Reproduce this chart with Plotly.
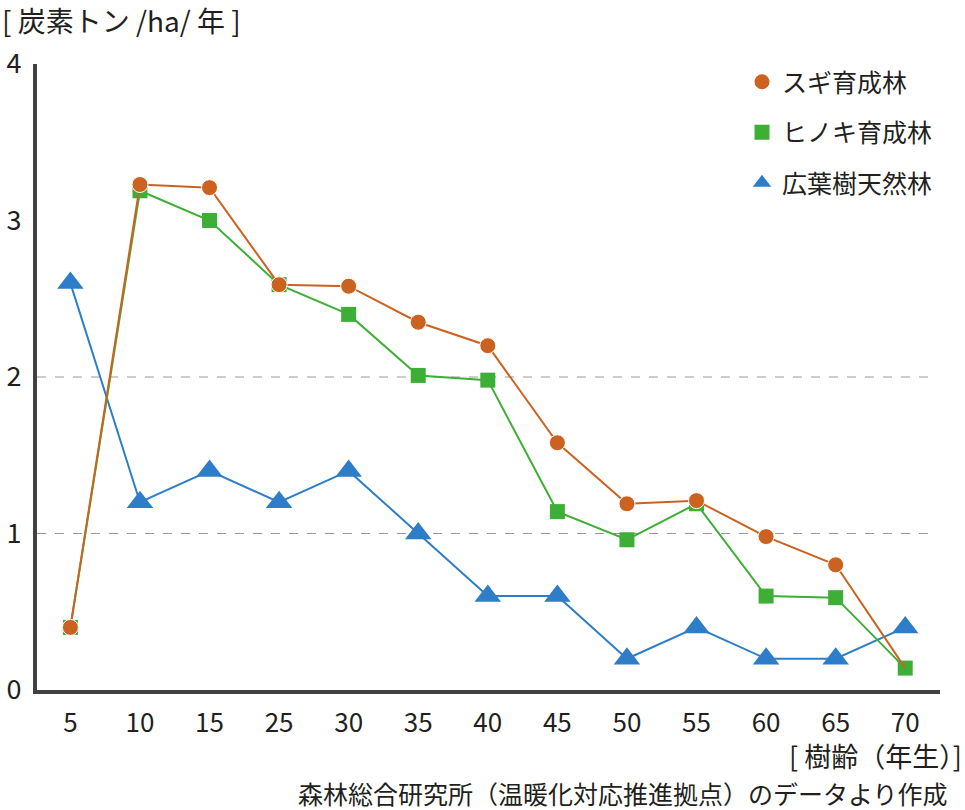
import plotly.graph_objects as go

ages = ["5", "10", "15", "25", "30", "35", "40", "45", "50", "55", "60", "65", "70"]
sugi = [0.40, 3.23, 3.21, 2.59, 2.58, 2.35, 2.20, 1.58, 1.19, 1.21, 0.98, 0.80, 0.14]
hinoki = [0.40, 3.19, 3.00, 2.59, 2.40, 2.01, 1.98, 1.14, 0.96, 1.19, 0.60, 0.59, 0.14]
kouyou = [2.60, 1.20, 1.40, 1.20, 1.40, 1.00, 0.60, 0.60, 0.20, 0.40, 0.20, 0.20, 0.40]
names = ["スギ育成林", "ヒノキ育成林", "広葉樹天然林"]
y_ticks = [0, 1, 2, 3, 4]
grid_vals = [1, 2]

ORANGE = "#CC6220"
GREEN = "#3EAF36"
BLUE = "#2E7DC9"
FONT = "Noto Sans CJK JP"
TXT = "#231f20"

W, H = 965, 810
L, R, T, B = 37, 25, 64, 120
PW = W - L - R
PH = H - T - B

fig = go.Figure()

series = [
    (names[0], sugi, ORANGE, "circle", [16] * 12 + [0]),
    (names[1], hinoki, GREEN, "square", 15),
    (names[2], kouyou, BLUE, "triangle-up", 23),
]

# draw order: broadleaf at bottom, sugi on top
for name, vals, col, sym, size in reversed(series):
    fig.add_trace(go.Scatter(
        x=ages, y=vals, mode="lines+markers", name=name, showlegend=False,
        line=dict(color=col, width=2),
        marker=dict(symbol=sym, size=size, color=col, opacity=1),
    ))

# legend entries (markers only, as in the reference)
for name, vals, col, sym, size in series:
    fig.add_trace(go.Scatter(
        x=[None], y=[None], mode="markers", name=name, showlegend=True,
        legendgroup=name,
        marker=dict(symbol=sym, size=15 if sym != "triangle-up" else 22, color=col),
    ))

for g in grid_vals:
    fig.add_shape(type="line", xref="paper", yref="y", x0=0, x1=(934 - L) / PW, y0=g, y1=g,
                  line=dict(color="#9a9a9a", width=1, dash="dash"), layer="below")

fig.update_layout(
    width=W, height=H,
    margin=dict(l=L, r=R, t=T, b=B, autoexpand=False),
    paper_bgcolor="white", plot_bgcolor="white",
    font=dict(family=FONT, size=24, color=TXT),
    showlegend=True,
    legend=dict(
        x=(742 - L) / PW, y=1 + 5 / PH, xanchor="left", yanchor="top",
        font=dict(size=25, family=FONT, color=TXT),
        bgcolor="rgba(0,0,0,0)", borderwidth=0,
        traceorder="grouped", tracegroupgap=15, itemwidth=30,
    ),
    xaxis=dict(
        type="category", categoryorder="array", categoryarray=ages,
        range=[-0.48, 12.5], automargin=False,
        showline=True, linecolor="#414042", linewidth=4,
        showgrid=False, zeroline=False, ticks="",
        tickfont=dict(size=26, family=FONT, color=TXT),
        ticklabelstandoff=7,
    ),
    yaxis=dict(
        range=[0, 4], tickvals=y_ticks, automargin=False,
        showline=True, linecolor="#414042", linewidth=4,
        showgrid=False, zeroline=False, ticks="",
        tickfont=dict(size=27, family=FONT, color=TXT),
        ticklabelstandoff=6,
    ),
)

fig.add_annotation(
    text="[ 炭素トン /ha/ 年 ]", xref="paper", yref="paper",
    x=-L / PW, y=1, yshift=T - 20, xanchor="left", yanchor="middle",
    showarrow=False, font=dict(size=28, family=FONT, color=TXT),
)
fig.add_annotation(
    text="[ 樹齢（年生）]", xref="paper", yref="paper",
    x=(964 - L) / PW, y=0, yshift=-(755 - (H - B)), xanchor="right", yanchor="middle",
    showarrow=False, font=dict(size=27, family=FONT, color=TXT),
)
fig.add_annotation(
    text="森林総合研究所（温暖化対応推進拠点）のデータより作成", xref="paper", yref="paper",
    x=(950 - L) / PW, y=0, yshift=-(793 - (H - B)), xanchor="right", yanchor="middle",
    showarrow=False, font=dict(size=25, family=FONT, color=TXT),
)

fig.write_html("out.html", config={"displayModeBar": False},
               post_script="document.body.style.margin='0';")
